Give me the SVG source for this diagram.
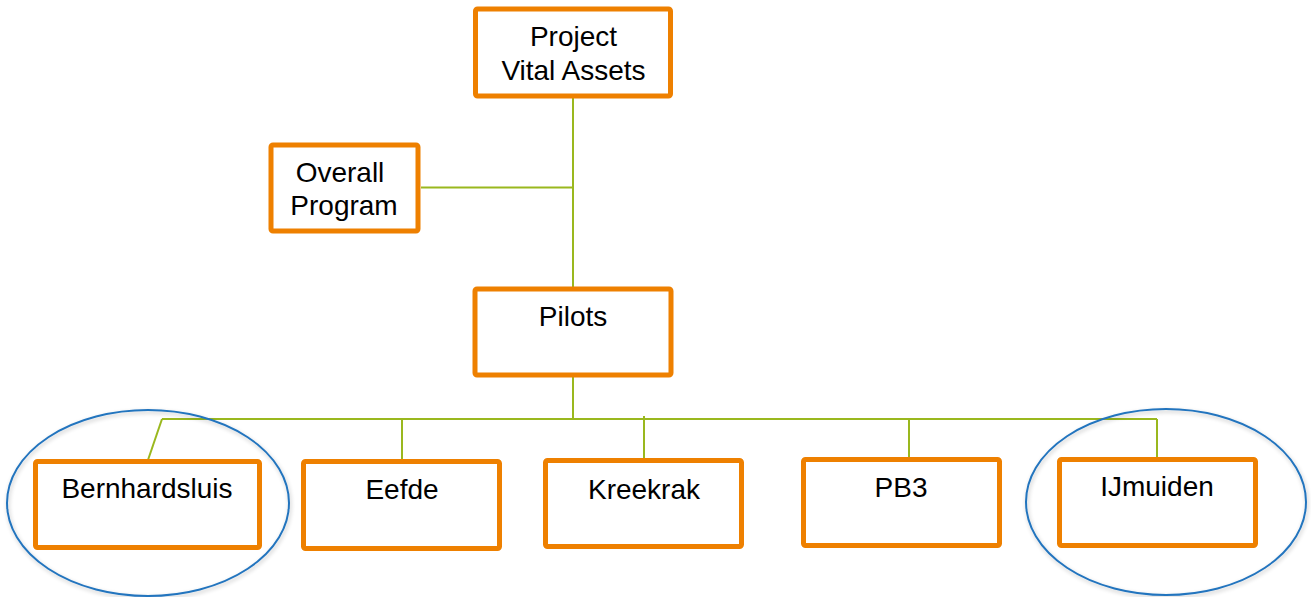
<svg xmlns="http://www.w3.org/2000/svg" width="1311" height="597" viewBox="0 0 1311 597">
  <defs>
    <filter id="soft" x="-10%" y="-10%" width="120%" height="125%">
      <feGaussianBlur in="SourceAlpha" stdDeviation="2"/>
      <feOffset dx="1" dy="2"/>
      <feComponentTransfer><feFuncA type="linear" slope="0.25"/></feComponentTransfer>
      <feMerge><feMergeNode/><feMergeNode in="SourceGraphic"/></feMerge>
    </filter>
  </defs>
  <style>
    .box { fill: #ffffff; stroke: #EE8000; stroke-width: 5; }
    .lbl { font-family: "Liberation Sans", Arial, sans-serif; font-size: 28px; fill: #000000; text-anchor: middle; }
    .link { fill: none; stroke: #9AB81E; stroke-width: 2; }
    .ring { fill: none; stroke: #2474BE; stroke-width: 2; }
  </style>
  <rect width="1311" height="597" fill="#ffffff"/>

  <!-- connectors -->
  <g id="connectors">
    <path class="link" d="M573 98 V288"/>
    <path class="link" d="M421 187.5 H573"/>
    <path class="link" d="M573 376 V419"/>
    <path class="link" d="M162 419 H1157"/>
    <path class="link" d="M162 419 L148 460"/>
    <path class="link" d="M402 419 V460"/>
    <path class="link" d="M644 416 V459"/>
    <path class="link" d="M909 419 V458"/>
    <path class="link" d="M1157 419 V458"/>
  </g>

  <!-- highlight rings around two pilots -->
  <g id="rings">
    <ellipse class="ring" cx="148" cy="503" rx="141" ry="93" filter="url(#soft)"/>
    <ellipse class="ring" cx="1166" cy="502" rx="140" ry="93" filter="url(#soft)"/>
  </g>

  <g id="project">
    <rect class="box" x="475.5" y="9" width="195" height="87" rx="2"/>
    <text class="lbl" x="573.5" y="46">Project</text>
    <text class="lbl" x="573.5" y="80">Vital Assets</text>
  </g>

  <g id="overall">
    <rect class="box" x="271" y="145" width="147" height="86" rx="2"/>
    <text class="lbl" x="340" y="182">Overall</text>
    <text class="lbl" x="344" y="215">Program</text>
  </g>

  <g id="pilots">
    <rect class="box" x="475" y="289" width="196" height="86" rx="2"/>
    <text class="lbl" x="573" y="326">Pilots</text>
  </g>

  <g id="bernhardsluis">
    <rect class="box" x="35.5" y="461.5" width="224" height="86" rx="2"/>
    <text class="lbl" x="147" y="498">Bernhardsluis</text>
  </g>

  <g id="eefde">
    <rect class="box" x="303.5" y="461.5" width="196" height="87" rx="2"/>
    <text class="lbl" x="402" y="499">Eefde</text>
  </g>

  <g id="kreekrak">
    <rect class="box" x="545.5" y="460.5" width="196" height="86" rx="2"/>
    <text class="lbl" x="644" y="499">Kreekrak</text>
  </g>

  <g id="pb3">
    <rect class="box" x="803.5" y="459.5" width="196" height="86" rx="2"/>
    <text class="lbl" x="901" y="497">PB3</text>
  </g>

  <g id="ijmuiden">
    <rect class="box" x="1059.5" y="459.5" width="196" height="86" rx="2"/>
    <text class="lbl" x="1157" y="496">IJmuiden</text>
  </g>
</svg>
